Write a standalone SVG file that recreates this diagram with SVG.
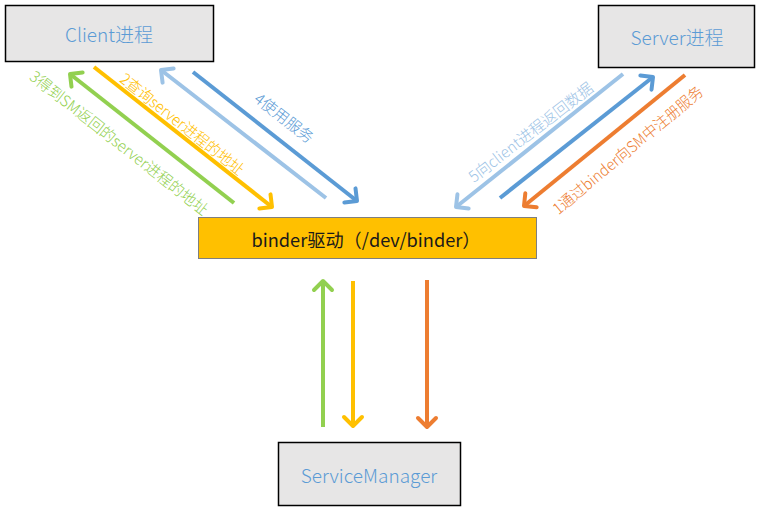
<svg xmlns="http://www.w3.org/2000/svg" width="760" height="513" viewBox="0 0 760 513">
<style>
.box{fill:#e7e6e6;stroke:#000;stroke-width:1.5}
.btxt{font-family:"Noto Sans CJK SC","Noto Sans",sans-serif;font-size:19px;font-weight:300;fill:#5b9bd5;text-anchor:middle;dominant-baseline:central}
.lbl{font-family:"Noto Sans CJK SC","Noto Sans",sans-serif;font-size:15.5px;font-weight:300;text-anchor:middle;dominant-baseline:central}
.ln{fill:none;stroke-width:4}
</style>
<defs>
<marker id="mG" markerUnits="userSpaceOnUse" markerWidth="30" markerHeight="30" viewBox="-15 -15 30 30" refX="0" refY="0" orient="auto"><path d="M-9,-9 L0,0 L-9,9" fill="none" stroke="#92d050" stroke-width="4" stroke-linejoin="round" stroke-linecap="round"/></marker>
<marker id="mY" markerUnits="userSpaceOnUse" markerWidth="30" markerHeight="30" viewBox="-15 -15 30 30" refX="0" refY="0" orient="auto"><path d="M-9,-9 L0,0 L-9,9" fill="none" stroke="#ffc000" stroke-width="4" stroke-linejoin="round" stroke-linecap="round"/></marker>
<marker id="mL" markerUnits="userSpaceOnUse" markerWidth="30" markerHeight="30" viewBox="-15 -15 30 30" refX="0" refY="0" orient="auto"><path d="M-9,-9 L0,0 L-9,9" fill="none" stroke="#9dc3e6" stroke-width="4" stroke-linejoin="round" stroke-linecap="round"/></marker>
<marker id="mB" markerUnits="userSpaceOnUse" markerWidth="30" markerHeight="30" viewBox="-15 -15 30 30" refX="0" refY="0" orient="auto"><path d="M-9,-9 L0,0 L-9,9" fill="none" stroke="#5b9bd5" stroke-width="4" stroke-linejoin="round" stroke-linecap="round"/></marker>
<marker id="mO" markerUnits="userSpaceOnUse" markerWidth="30" markerHeight="30" viewBox="-15 -15 30 30" refX="0" refY="0" orient="auto"><path d="M-9,-9 L0,0 L-9,9" fill="none" stroke="#ed7d31" stroke-width="4" stroke-linejoin="round" stroke-linecap="round"/></marker>
</defs>
<rect width="760" height="513" fill="#fff"/>
<g id="client">
<rect class="box" x="5.5" y="5.5" width="208" height="56"/>
<text class="btxt" x="109" y="33">Client进程</text>
</g>
<g id="server">
<rect class="box" x="598.5" y="5.5" width="156" height="62"/>
<text class="btxt" x="677" y="36">Server进程</text>
</g>
<g id="binder">
<rect x="198.5" y="217.5" width="338" height="41" fill="#ffc000" stroke="#7f7f7f" stroke-width="1"/>
<text x="366" y="239" font-family="'Noto Sans CJK SC','Noto Sans',sans-serif" font-size="18.5" fill="#1a1a1a" text-anchor="middle" dominant-baseline="central" textLength="229" lengthAdjust="spacingAndGlyphs">binder驱动（/dev/binder）</text>
</g>
<g id="servicemanager">
<rect class="box" x="278.5" y="442.5" width="182" height="63"/>
<text class="btxt" x="369" y="474">ServiceManager</text>
</g>
<g id="connectors">
<line class="ln" stroke="#92d050" x1="234" y1="203" x2="70" y2="74" marker-end="url(#mG)"/>
<line class="ln" stroke="#ffc000" x1="94" y1="67" x2="272" y2="207" marker-end="url(#mY)"/>
<line class="ln" stroke="#9dc3e6" x1="326" y1="198" x2="161" y2="70" marker-end="url(#mL)"/>
<line class="ln" stroke="#5b9bd5" x1="193" y1="72" x2="357" y2="201" marker-end="url(#mB)"/>
<line class="ln" stroke="#9dc3e6" x1="623" y1="74" x2="456" y2="207" marker-end="url(#mL)"/>
<line class="ln" stroke="#5b9bd5" x1="500" y1="198" x2="653" y2="77" marker-end="url(#mB)"/>
<line class="ln" stroke="#ed7d31" x1="685" y1="75" x2="524" y2="206" marker-end="url(#mO)"/>
<line class="ln" stroke="#92d050" x1="323" y1="427" x2="323" y2="281" marker-end="url(#mG)"/>
<line class="ln" stroke="#ffc000" x1="353" y1="281" x2="353" y2="426" marker-end="url(#mY)"/>
<line class="ln" stroke="#ed7d31" x1="427" y1="280" x2="427" y2="427" marker-end="url(#mO)"/>
</g>
<g id="labels">
<text class="lbl" fill="#92d050" transform="translate(120,142) rotate(38.2)" textLength="222" lengthAdjust="spacingAndGlyphs">3得到SM返回的server进程的地址</text>
<text class="lbl" fill="#ffc000" transform="translate(183,123) rotate(38.3)" textLength="153" lengthAdjust="spacingAndGlyphs">2查询server进程的地址</text>
<text class="lbl" fill="#5b9bd5" transform="translate(285,117) rotate(38)" textLength="70" lengthAdjust="spacingAndGlyphs">4使用服务</text>
<text class="lbl" fill="#9dc3e6" transform="translate(530,131) rotate(-37.6)" textLength="152" lengthAdjust="spacingAndGlyphs">5向client进程返回数据</text>
<text class="lbl" fill="#ed7d31" transform="translate(627,149) rotate(-39.8)" textLength="190" lengthAdjust="spacingAndGlyphs">1通过binder向SM中注册服务</text>
</g>
</svg>
